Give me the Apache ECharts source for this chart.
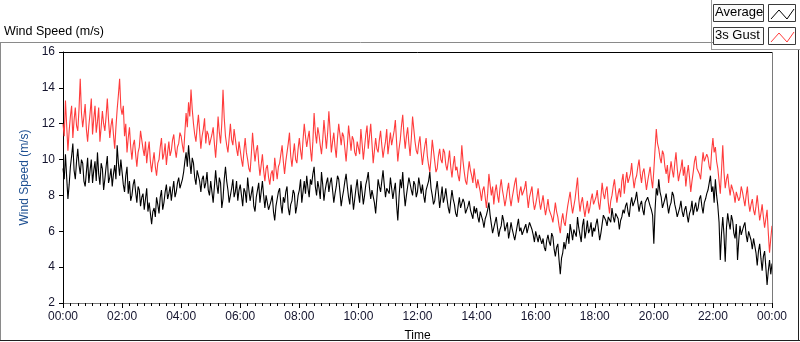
<!DOCTYPE html>
<html>
<head>
<meta charset="utf-8">
<script src="https://cdn.jsdelivr.net/npm/echarts@6/dist/echarts.min.js"></script>
<style>
html,body{margin:0;padding:0;background:#fff;}
#chart{width:800px;height:342px;}
</style>
</head>
<body>
<div id="chart"></div>
<script>
// sample step (minutes) for both series, starting 00:00
var stepMinutes = 2.5;
var seriesNames = ['Average', '3s Gust'];
var xTickLabels = ['00:00','02:00','04:00','06:00','08:00','10:00','12:00','14:00','16:00','18:00','20:00','22:00','00:00'];
var yTicks = [2, 4, 6, 8, 10, 12, 14, 16];

var average = [
9.5,8.9,10.3,9.0,7.8,8.6,9.6,10.2,10.9,9.4,8.9,9.9,10.6,9.7,9.2,10.0,9.8,8.8,8.5,9.3,10.1,8.7,9.4,10.0,
8.7,9.4,9.9,8.8,10.4,9.2,8.6,9.8,9.5,8.3,8.9,9.6,10.2,8.7,9.0,9.5,8.5,9.2,9.7,8.9,10.8,9.8,9.1,10.0,
9.3,8.6,8.2,9.1,9.6,8.1,8.8,7.7,8.0,8.6,8.9,8.2,7.6,8.5,8.3,7.4,7.9,8.1,7.2,7.8,8.4,7.1,7.6,7.0,
6.4,7.1,7.3,6.8,7.9,7.5,7.0,7.9,8.3,7.2,7.6,8.2,8.6,7.8,8.1,8.5,7.7,8.3,8.8,7.9,8.2,8.7,9.0,8.4,
8.4,8.9,9.3,9.9,10.4,9.6,10.8,9.9,9.2,10.1,9.8,9.0,8.6,9.4,9.5,8.8,8.2,8.9,9.1,8.4,8.7,9.3,8.3,8.0,
8.8,8.2,7.6,8.5,9.4,8.6,8.1,9.0,8.7,7.3,7.8,8.9,9.6,8.8,8.3,7.6,7.5,8.4,8.9,7.9,8.2,8.8,7.7,8.3,
8.6,8.0,7.4,8.4,8.2,7.6,9.0,8.3,7.7,8.1,8.5,7.4,7.1,7.9,8.3,8.7,7.6,8.2,8.8,8.0,7.3,8.0,7.9,7.2,
7.2,7.7,8.0,7.1,6.6,7.4,7.8,8.2,8.4,7.5,7.0,7.9,7.6,8.2,8.5,7.3,6.9,7.5,7.7,8.3,8.1,7.0,7.4,8.0,
8.3,8.9,7.6,8.2,8.8,8.1,9.1,8.4,7.9,8.9,8.6,9.2,9.6,8.5,8.0,8.8,8.4,7.8,9.3,8.6,7.7,8.3,8.7,9.0,
8.2,8.7,9.0,8.3,7.6,8.1,8.5,9.1,8.9,8.2,7.4,7.9,8.3,8.8,9.2,8.5,7.9,7.5,8.6,8.0,7.2,7.8,8.4,8.9,
8.1,7.6,8.8,8.2,7.5,8.0,8.6,8.9,9.3,8.4,7.8,8.3,8.4,7.6,7.0,7.9,8.9,8.5,8.2,8.8,9.4,8.6,7.9,8.4,
8.5,8.1,9.0,8.4,7.8,8.3,8.7,7.5,6.6,7.9,8.9,8.4,9.3,8.2,7.4,8.0,8.5,9.0,9.1,8.3,8.0,8.8,8.6,7.9,
8.2,9.0,8.9,8.1,8.6,8.0,7.6,8.3,8.4,8.8,9.3,8.4,8.0,7.5,7.7,8.3,8.8,8.1,7.3,7.9,8.5,7.6,7.9,8.4,
7.8,7.3,7.0,7.7,8.3,7.8,7.5,7.0,6.8,7.4,7.9,7.3,7.2,7.8,7.6,7.0,6.9,7.4,7.7,7.2,7.1,6.7,7.4,7.0,
7.3,6.8,6.5,7.1,7.0,6.6,6.2,6.7,6.9,7.2,7.6,6.9,6.4,5.9,6.0,6.5,6.8,6.2,5.7,6.1,6.3,6.9,6.6,6.0,
6.1,6.5,5.6,6.0,6.5,6.1,6.0,5.5,5.9,6.3,6.7,6.0,6.2,5.8,5.7,6.2,6.4,5.9,6.0,6.5,6.6,6.1,5.8,5.4,
6.0,5.7,5.4,5.8,5.9,5.3,5.6,5.1,4.9,5.5,5.8,5.4,5.2,5.9,5.7,5.0,4.6,5.1,5.3,4.4,3.6,4.5,4.8,5.4,
5.0,5.5,5.9,5.3,6.4,6.0,5.5,6.1,6.2,5.7,6.8,6.2,5.8,5.4,6.3,6.7,5.6,6.0,6.6,5.9,6.1,6.5,5.7,6.2,
6.0,6.4,6.7,6.1,5.5,5.9,6.4,6.9,7.0,6.6,6.3,6.8,6.9,6.5,7.3,6.8,6.5,7.0,7.1,6.7,6.1,6.6,6.8,7.2,
7.0,7.4,7.6,7.1,6.8,7.5,7.9,7.4,7.3,7.8,8.2,7.6,7.1,7.5,7.7,7.2,6.9,7.6,7.5,7.9,8.0,7.4,7.2,6.9,
5.3,7.2,8.4,8.0,8.9,8.2,7.9,7.3,7.4,7.8,8.1,7.5,7.0,7.4,7.6,8.2,8.0,7.5,7.2,6.8,6.7,7.3,7.7,7.1,
6.8,7.2,7.4,6.9,6.5,7.0,7.2,7.7,6.9,7.3,7.6,7.1,7.3,7.8,8.0,7.4,7.0,7.6,7.8,8.1,8.3,8.7,9.1,8.2,
8.5,7.6,8.9,8.0,7.4,6.5,4.4,5.9,6.8,5.8,4.3,6.2,7.0,6.5,6.1,6.9,6.6,5.9,5.6,6.4,4.4,5.5,6.3,5.8,
5.9,6.3,6.5,5.8,5.4,6.0,6.1,5.5,5.0,5.6,5.7,4.8,4.1,4.9,5.3,4.5,3.8,4.6,4.9,4.0,3.0,3.8,4.4,3.6,
4.2
];

var gust = [
12.0,11.3,13.3,11.9,10.5,11.6,12.4,13.0,11.2,12.2,12.9,11.9,11.6,12.8,14.5,12.6,11.8,12.4,13.1,11.7,11.0,11.9,12.6,13.4,
11.4,12.3,13.0,11.5,12.1,12.9,11.0,11.8,12.7,12.0,11.6,12.4,13.4,12.2,11.2,11.9,12.3,11.4,10.6,11.8,12.8,13.6,14.5,12.9,
12.5,13.0,11.3,12.0,10.4,11.2,11.8,10.7,10.0,10.8,11.1,10.3,9.6,10.4,10.7,11.6,11.5,10.6,10.2,11.0,9.8,10.5,11.0,9.9,
9.3,9.9,10.4,9.6,9.1,9.8,10.0,10.7,11.2,10.0,10.3,10.9,9.7,10.4,11.0,10.2,10.5,11.1,11.4,10.6,10.1,10.7,10.9,11.5,
11.3,10.8,10.4,11.5,12.6,11.8,13.2,12.4,13.9,12.8,12.0,11.4,11.0,11.8,12.5,11.6,10.6,11.3,11.7,12.3,10.9,11.6,11.4,10.8,
10.7,11.4,11.8,10.9,10.1,11.1,12.4,11.5,10.9,12.0,13.9,12.3,11.3,10.8,10.4,11.2,12.0,11.1,10.8,11.7,11.6,10.6,10.2,11.0,
10.5,10.0,9.6,10.5,11.2,10.4,10.0,9.5,9.3,10.3,11.5,10.6,9.9,10.5,10.8,9.8,9.1,9.7,10.3,9.4,8.8,9.5,9.7,9.0,
8.6,9.2,9.4,8.8,10.1,9.5,8.9,9.6,9.8,10.3,10.8,9.9,9.2,9.9,10.4,10.9,11.5,10.2,9.6,10.3,10.9,10.0,9.8,10.6,
11.2,10.5,10.0,11.1,12.0,11.3,10.7,11.2,11.6,10.6,9.9,11.0,12.6,11.5,10.9,11.8,11.4,10.8,10.3,11.1,12.2,11.4,10.6,11.5,
12.7,11.6,10.4,11.0,11.5,10.7,10.1,11.2,12.0,11.4,10.8,11.5,11.3,10.6,9.9,10.8,11.9,11.2,10.5,11.3,11.1,10.4,10.2,11.0,
10.9,10.3,11.7,10.9,10.0,10.7,11.4,11.9,10.6,11.3,12.0,10.9,9.8,10.5,11.2,10.6,10.4,11.1,11.6,10.8,10.1,10.6,11.0,11.7,
10.3,10.9,11.5,10.8,10.7,11.6,12.2,11.0,9.9,10.6,11.1,11.9,12.5,11.4,10.6,11.3,11.8,10.9,10.2,11.2,12.4,11.7,11.0,10.5,
10.3,10.9,11.3,10.4,9.7,10.3,10.8,11.2,10.2,9.7,9.3,10.1,11.1,10.5,9.9,9.3,9.5,10.2,10.6,10.0,9.8,10.6,10.4,9.7,
9.4,9.9,10.5,9.6,9.0,9.7,10.2,9.4,9.6,9.1,8.8,9.6,10.8,9.9,9.3,8.8,8.6,9.3,9.9,9.4,9.1,8.7,9.5,8.9,
8.4,8.9,9.0,8.2,7.7,8.3,8.5,7.9,7.3,8.1,9.2,8.6,8.0,8.5,7.5,8.2,8.6,8.0,7.6,8.4,8.9,8.3,7.9,7.4,
7.8,8.3,8.7,7.9,7.4,7.9,8.3,8.7,9.0,8.1,7.6,8.2,8.5,8.0,7.9,8.4,8.8,8.0,7.3,7.9,8.2,8.5,7.7,7.2,
7.5,7.9,8.4,7.7,7.2,7.6,8.0,7.4,6.9,7.3,7.8,7.2,7.1,6.8,6.5,7.0,7.6,7.1,6.8,6.3,5.9,6.6,7.0,6.5,
6.3,6.9,7.4,7.8,8.2,7.5,7.0,7.4,7.8,8.4,9.0,7.8,7.1,7.6,7.9,7.3,6.8,7.3,7.7,7.0,7.3,7.8,8.1,7.5,
7.5,7.9,8.3,7.6,7.2,7.9,8.7,8.1,7.8,8.3,8.5,7.6,7.0,7.7,8.0,8.5,8.9,8.2,7.6,8.1,8.4,7.9,8.8,9.2,
8.1,8.8,9.3,8.7,8.6,9.2,9.8,9.0,8.4,8.9,9.1,9.6,10.0,9.2,8.7,9.3,9.5,8.9,8.3,8.8,9.2,9.6,8.9,8.4,
9.4,10.6,11.7,10.9,10.6,10.1,9.8,10.5,10.3,9.6,9.2,9.7,8.7,9.3,9.9,9.4,9.0,9.8,10.4,9.5,8.8,9.2,9.5,10.0,
9.1,9.6,8.5,9.2,9.7,9.0,8.2,8.8,9.3,9.9,10.2,9.5,9.6,9.2,8.9,9.7,10.4,9.9,9.8,10.3,10.1,9.6,9.4,10.5,
11.2,10.4,10.7,9.9,9.5,8.8,8.1,9.4,10.8,9.3,8.4,8.9,9.2,8.5,8.0,8.6,8.7,8.1,7.6,8.2,8.3,7.7,7.9,8.5,
8.2,7.8,7.4,8.0,8.5,7.6,7.1,7.5,7.8,7.2,6.9,7.4,8.0,7.3,6.6,7.0,7.5,6.8,6.2,6.7,7.2,5.9,4.8,5.6,
6.3
];

function toPairs(arr){
  var out = [];
  for (var i = 0; i < arr.length; i++) out.push([i * stepMinutes, arr[i]]);
  return out;
}

var FONT = '"Liberation Sans", "DejaVu Sans", sans-serif';
var chart = echarts.init(document.getElementById('chart'), null, {renderer: 'canvas'});

function legendItem(y, label, color){
  return [
    {type:'rect', shape:{x:713.5, y:y+0.5, width:50, height:17}, style:{fill:'#fbfbfb', stroke:'#3a3a3a', lineWidth:1}, silent:true},
    {type:'text', left:715, top:y+2, style:{text:label, fill:'#000', font:'13px ' + FONT}, silent:true},
    {type:'rect', shape:{x:768.5, y:y+0.5, width:27, height:17}, style:{fill:'#ffffff', stroke:'#3a3a3a', lineWidth:1}, silent:true},
    {type:'polyline', shape:{points:[[771,y+15],[779,y+6],[787,y+15],[794,y+5]]}, style:{stroke:color, lineWidth:1, fill:null}, silent:true}
  ];
}

var graphics = [
  {type:'line', shape:{x1:0, y1:42.5, x2:721, y2:42.5}, style:{stroke:'#8a8a8a', lineWidth:1}, silent:true},
  {type:'line', shape:{x1:0.5, y1:42, x2:0.5, y2:340}, style:{stroke:'#8a8a8a', lineWidth:1}, silent:true},
  {type:'line', shape:{x1:0, y1:340.5, x2:800, y2:340.5}, style:{stroke:'#202020', lineWidth:1}, silent:true},
  {type:'line', shape:{x1:798.5, y1:49, x2:798.5, y2:341}, style:{stroke:'#202020', lineWidth:1}, silent:true},
  {type:'line', shape:{x1:711.5, y1:0, x2:711.5, y2:50}, style:{stroke:'#9a9a9a', lineWidth:1}, silent:true},
  {type:'line', shape:{x1:711, y1:49.5, x2:800, y2:49.5}, style:{stroke:'#9a9a9a', lineWidth:1}, silent:true},
  {type:'line', shape:{x1:63, y1:52.5, x2:772.5, y2:52.5}, style:{stroke:'#000', lineWidth:1}, silent:true, z:10},
  {type:'line', shape:{x1:772.5, y1:52, x2:772.5, y2:303}, style:{stroke:'#7a7a7a', lineWidth:1}, silent:true, z:10},
  {type:'text', left:4, top:25, style:{text:'Wind Speed (m/s)', fill:'#000', font:'12.5px ' + FONT}, silent:true}
].concat(legendItem(4, seriesNames[0], '#000000'), legendItem(27, seriesNames[1], '#ff3c3c'));

chart.setOption({
  animation: false,
  backgroundColor: '#ffffff',
  grid: {left: 63, right: 28, top: 52, bottom: 39, containLabel: false, outerBoundsMode: 'none'},
  xAxis: {
    type: 'value', min: 0, max: 1440, interval: 120,
    name: 'Time', nameLocation: 'middle', nameGap: 27,
    nameTextStyle: {color: '#000', fontSize: 12, fontFamily: FONT},
    axisLine: {show: true, lineStyle: {color: '#7a7a7a', width: 1}},
    axisTick: {show: true, length: 5, lineStyle: {color: '#000'}},
    minorTick: {show: true, splitNumber: 8, length: 3, lineStyle: {color: '#000'}},
    axisLabel: {
      color: '#14142e', fontSize: 12, fontFamily: FONT, margin: 8,
      formatter: function(v){ return xTickLabels[Math.round(v / 120)]; }
    },
    splitLine: {show: false}, minorSplitLine: {show: false}
  },
  yAxis: {
    type: 'value', min: yTicks[0], max: yTicks[yTicks.length - 1], interval: 2,
    name: 'Wind Speed (m/s)', nameLocation: 'middle', nameGap: 24,
    nameTextStyle: {color: '#1d4f91', fontSize: 12, fontFamily: FONT},
    axisLine: {show: true, lineStyle: {color: '#000', width: 1}},
    axisTick: {show: true, length: 4, lineStyle: {color: '#000'}},
    axisLabel: {color: '#14142e', fontSize: 12, fontFamily: FONT, margin: 8},
    splitLine: {show: false}
  },
  graphic: graphics,
  series: [
    {
      name: seriesNames[1], type: 'line', data: toPairs(gust),
      showSymbol: false, symbol: 'none', smooth: false,
      lineStyle: {color: '#ff3c3c', width: 1.1}, itemStyle: {color: '#ff3c3c'},
      z: 2
    },
    {
      name: seriesNames[0], type: 'line', data: toPairs(average),
      showSymbol: false, symbol: 'none', smooth: false,
      lineStyle: {color: '#000000', width: 1.1}, itemStyle: {color: '#000000'},
      z: 3
    }
  ]
});
</script>
</body>
</html>
